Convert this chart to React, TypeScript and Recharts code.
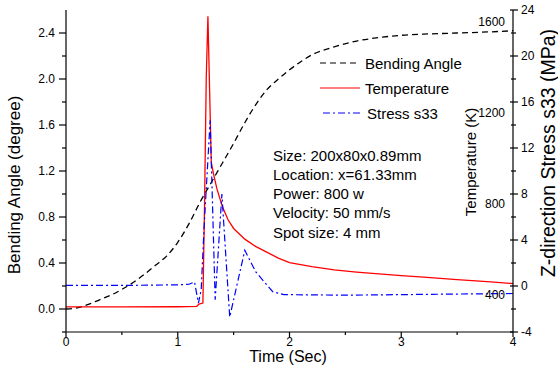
import { LineChart, Line, XAxis, YAxis, ReferenceLine, Customized } from "recharts";

const FONT = "'Liberation Sans', Arial, sans-serif";

// bending angle (degree) vs time (s)
const angleTime = [0, 0.1, 0.2, 0.3, 0.4, 0.5, 0.6, 0.7, 0.8, 0.9, 1.0, 1.1, 1.2, 1.3, 1.4, 1.5, 1.6, 1.7, 1.8, 1.9, 2.0, 2.1, 2.2, 2.4, 2.6, 2.8, 3.0, 3.2, 3.5, 3.8, 4.0];
const angleValues = [0, 0.01, 0.04, 0.08, 0.12, 0.17, 0.23, 0.3, 0.38, 0.46, 0.58, 0.74, 0.93, 1.1, 1.27, 1.44, 1.62, 1.78, 1.91, 2.0, 2.08, 2.15, 2.21, 2.28, 2.33, 2.36, 2.38, 2.39, 2.4, 2.41, 2.42];

// temperature (K)
const tempTime = [0, 0.5, 1.0, 1.17, 1.19, 1.225, 1.24, 1.255, 1.27, 1.285, 1.3, 1.32, 1.35, 1.4, 1.45, 1.5, 1.6, 1.7, 1.8, 1.9, 2.0, 2.2, 2.4, 2.6, 2.8, 3.0, 3.2, 3.5, 3.8, 4.0];
const tempValues = [345, 345, 346, 348, 358, 362, 800, 1350, 1622, 1300, 980, 930, 865, 785, 728, 690, 643, 610, 585, 560, 540, 522, 508, 498, 490, 483, 476, 465, 455, 448];

// z-direction stress s33 (MPa)
const stressTime = [0, 0.5, 1.0, 1.1, 1.15, 1.185, 1.21, 1.235, 1.29, 1.335, 1.395, 1.465, 1.6, 1.7, 1.85, 1.95, 2.5, 3.0, 3.5, 4.0];
const stressValues = [0.05, 0.05, 0.1, 0.15, 0.35, -1.5, -0.3, 5, 14.4, -1.2, 8, -2.7, 3.1, 1.2, -0.5, -0.75, -0.8, -0.75, -0.7, -0.65];

const timeTicks = [0, 0.5, 1, 1.5, 2, 2.5, 3, 3.5, 4];
const angleTicks = [-0.2, 0, 0.2, 0.4, 0.6, 0.8, 1.0, 1.2, 1.4, 1.6, 1.8, 2.0, 2.2, 2.4];
const tempTicks = [400, 800, 1200, 1600];
const stressTicks = [-4, -2, 0, 2, 4, 6, 8, 10, 12, 14, 16, 18, 20, 22, 24];

const notes = ["Size: 200x80x0.89mm", "Location: x=61.33mm", "Power: 800 w", "Velocity: 50 mm/s", "Spot size: 4 mm"];

const angleData = angleTime.map((t, i) => ({ t, v: angleValues[i] }));
const tempData = tempTime.map((t, i) => ({ t, v: tempValues[i] }));
const stressData = stressTime.map((t, i) => ({ t, v: stressValues[i] }));

const isStep = (v: number, step: number) => Math.abs(v / step - Math.round(v / step)) < 1e-6;

type TickProps = { x?: number; y?: number; payload?: { value: number } };

const textStyle = { fontFamily: FONT, fontSize: 12, fill: "#000" };

const LeftTick = ({ x = 0, y = 0, payload }: TickProps) => {
  const v = payload?.value ?? 0;
  const major = isStep(v, 0.4);
  return (
    <g>
      <line x1={x - (major ? 7 : 4)} x2={x} y1={y} y2={y} stroke="#000" strokeWidth={1.2} />
      {major && (
        <text x={x - 11} y={y + 4.3} textAnchor="end" style={textStyle}>
          {v.toFixed(1)}
        </text>
      )}
    </g>
  );
};

const BottomTick = ({ x = 0, y = 0, payload }: TickProps) => {
  const v = payload?.value ?? 0;
  const major = isStep(v, 1);
  return (
    <g>
      <line x1={x} x2={x} y1={y} y2={y + (major ? 5 : 3)} stroke="#000" strokeWidth={1.2} />
      {major && (
        <text x={x} y={y + 13.5} textAnchor="middle" style={textStyle}>
          {v}
        </text>
      )}
    </g>
  );
};

const StressTick = ({ x = 0, y = 0, payload }: TickProps) => {
  const v = payload?.value ?? 0;
  const major = isStep(v, 4);
  return (
    <g>
      <line x1={x - (major ? 3 : 2)} x2={x + (major ? 5 : 3)} y1={y} y2={y} stroke="#000" strokeWidth={1.2} />
      {major && (
        <text x={x + 8} y={y + 4.3} textAnchor="start" style={textStyle}>
          {v}
        </text>
      )}
    </g>
  );
};

const Overlay = () => (
  <g style={{ fontFamily: FONT }}>
    {/* axis titles */}
    <text transform="translate(20,185) rotate(-90)" textAnchor="middle" fontSize={17}>
      Bending Angle (degree)
    </text>
    <text x={288} y={362} textAnchor="middle" fontSize={16}>
      Time (Sec)
    </text>
    <text transform="translate(476,162) rotate(-90)" textAnchor="middle" fontSize={15}>
      Temperature (K)
    </text>
    <text transform="translate(555,153) rotate(-90)" textAnchor="middle" fontSize={19.5}>
      Z-direction Stress s33 (MPa)
    </text>

    {/* legend */}
    <line x1={320} x2={360} y1={63} y2={63} stroke="#000" strokeWidth={1.2} strokeDasharray="6 4" />
    <text x={365} y={68.5} fontSize={15}>Bending Angle</text>
    <line x1={320} x2={360} y1={88} y2={88} stroke="#ff0000" strokeWidth={1.2} />
    <text x={365} y={93.5} fontSize={15}>Temperature</text>
    <line x1={323} x2={362} y1={113} y2={113} stroke="#0000ff" strokeWidth={1.2} strokeDasharray="7 3 2 3" />
    <text x={367} y={118.5} fontSize={15}>Stress s33</text>

    {/* process notes */}
    {notes.map((n, i) => (
      <text key={n} x={273} y={160.5 + i * 19.3} fontSize={15}>
        {n}
      </text>
    ))}
  </g>
);

export default function App() {
  return (
    <div style={{ position: "absolute", left: 0, top: 0, width: 558, height: 374, background: "#fff" }}>
      <LineChart width={558} height={374} margin={{ top: 10, right: 0, bottom: 0, left: 0 }}>
        <XAxis
          xAxisId="top"
          orientation="top"
          type="number"
          domain={[0, 4]}
          height={0}
          tick={false}
          tickLine={false}
          axisLine={{ stroke: "#000", strokeWidth: 1.2 }}
        />
        <XAxis
          dataKey="t"
          type="number"
          domain={[0, 4]}
          ticks={timeTicks}
          interval={0}
          height={42}
          tickSize={0}
          tickMargin={0}
          tickLine={false}
          tick={<BottomTick />}
          axisLine={{ stroke: "#000", strokeWidth: 1.2 }}
          allowDataOverflow
        />
        <YAxis
          yAxisId="angle"
          type="number"
          domain={[-0.2, 2.6]}
          ticks={angleTicks}
          interval={0}
          width={66}
          tickSize={0}
          tickMargin={0}
          tickLine={false}
          tick={<LeftTick />}
          axisLine={{ stroke: "#000", strokeWidth: 1.2 }}
          allowDataOverflow
        />
        <YAxis yAxisId="temp" hide type="number" domain={[235, 1650]} allowDataOverflow />
        <YAxis
          yAxisId="stress"
          orientation="right"
          type="number"
          domain={[-4, 24]}
          ticks={stressTicks}
          interval={0}
          width={45}
          tickSize={0}
          tickMargin={0}
          tickLine={false}
          tick={<StressTick />}
          axisLine={{ stroke: "#000", strokeWidth: 1.2 }}
          allowDataOverflow
        />
        {tempTicks.map((v) => (
          <ReferenceLine
            key={v}
            yAxisId="temp"
            y={v}
            stroke="none"
            label={{ value: String(v), position: "insideRight", offset: 8, fill: "#000", fontSize: 12, fontFamily: FONT }}
          />
        ))}
        <Line
          data={angleData}
          dataKey="v"
          yAxisId="angle"
          type="monotone"
          stroke="#000"
          strokeWidth={1.3}
          strokeDasharray="6 4"
          dot={false}
          isAnimationActive={false}
        />
        <Line
          data={tempData}
          dataKey="v"
          yAxisId="temp"
          type="linear"
          stroke="#ff0000"
          strokeWidth={1.3}
          dot={false}
          isAnimationActive={false}
        />
        <Line
          data={stressData}
          dataKey="v"
          yAxisId="stress"
          type="linear"
          stroke="#0000ff"
          strokeWidth={1.2}
          strokeDasharray="7 3 2 3"
          dot={false}
          isAnimationActive={false}
        />
        <Customized component={Overlay} />
      </LineChart>
    </div>
  );
}
